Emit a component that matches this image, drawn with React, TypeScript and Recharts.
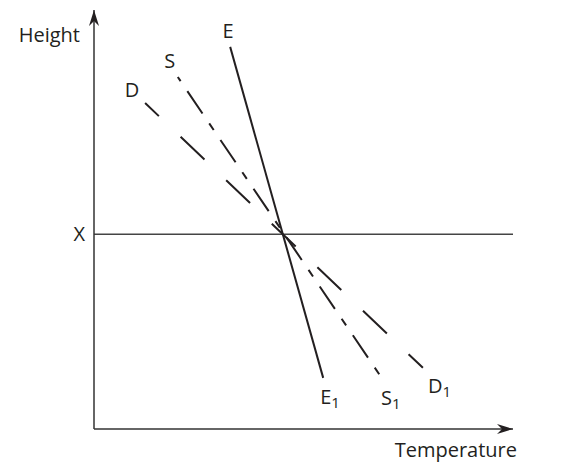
import { LineChart, Line, XAxis, YAxis, ReferenceLine, LabelList } from 'recharts';

// values on a 0..100 scale for both axes
const eLine = [
  { t: 32.5, h: 91.2 },
  { t: 54.7, h: 12.2 },
];
const sLine = [
  { t: 20.0, h: 84.0 },
  { t: 69.0, h: 11.7 },
];
const dLine = [
  { t: 12.2, h: 77.8 },
  { t: 78.5, h: 14.6 },
];
const levelX = 46.5;
const axisTitles = { x: 'Temperature', y: 'Height' };

const FONT = '"Open Sans", "DejaVu Sans", sans-serif';
const INK = '#231f20';

function endLabels(name: string, top: [number, number], bottom: [number, number]) {
  return (props: any) => {
    const { x, y, index } = props;
    if (index === 0) {
      return (
        <text x={x + top[0]} y={y + top[1]} textAnchor="middle" fontSize={20} fontFamily={FONT} fill={INK}>
          {name}
        </text>
      );
    }
    return (
      <text x={x + bottom[0]} y={y + bottom[1]} fontSize={20} fontFamily={FONT} fill={INK}>
        {name}
        <tspan dy={4} fontSize={15}>1</tspan>
      </text>
    );
  };
}

export default function App() {
  return (
    <div>
      <svg width={0} height={0} style={{ position: 'absolute' }}>
        <defs>
          <marker
            id="axis-arrow"
            viewBox="0 0 16 10"
            refX={16}
            refY={5}
            markerWidth={16}
            markerHeight={10}
            markerUnits="userSpaceOnUse"
            orient="auto-start-reverse"
          >
            <path d="M0,0 L16,5 L0,10 L5,5 Z" fill="#231f20" />
          </marker>
        </defs>
      </svg>
      <LineChart width={572} height={457} margin={{ top: 2, right: 67, bottom: 0, left: 0 }}>
        <XAxis
          dataKey="t"
          type="number"
          domain={[0, 100]}
          allowDataOverflow
          height={36}
          tick={false}
          tickLine={false}
          axisLine={{ stroke: '#333', strokeWidth: 1.5, markerEnd: 'url(#axis-arrow)' }}
          label={{
            content: (p: any) => {
              const vb = p.viewBox;
              return (
                <text x={vb.x + vb.width + 4} y={vb.y + 28} textAnchor="end" fontSize={20} fontFamily={FONT} fill={INK}>
                  {axisTitles.x}
                </text>
              );
            },
          }}
        />
        <YAxis
          dataKey="h"
          type="number"
          domain={[0, 100]}
          allowDataOverflow
          width={86}
          tick={false}
          tickLine={false}
          axisLine={{ stroke: '#333', strokeWidth: 1.5, markerStart: 'url(#axis-arrow)' }}
          label={{
            content: (p: any) => {
              const vb = p.viewBox;
              return (
                <text x={vb.x + vb.width - 14} y={vb.y + 32} textAnchor="end" fontSize={20} fontFamily={FONT} fill={INK}>
                  {axisTitles.y}
                </text>
              );
            },
          }}
        />
        <ReferenceLine
          y={levelX}
          stroke="#444"
          strokeWidth={1.5}
          label={{ value: 'X', position: 'left', offset: 9, fontSize: 20, fontFamily: FONT, fill: INK }}
        />
        <Line
          data={dLine}
          dataKey="h"
          stroke={INK}
          strokeWidth={2}
          strokeDasharray="33 30"
          strokeDashoffset={14}
          dot={false}
          activeDot={false}
          legendType="none"
          isAnimationActive={false}
        >
          <LabelList dataKey="h" content={endLabels('D', [-13, -6], [5, 25])} />
        </Line>
        <Line
          data={sLine}
          dataKey="h"
          stroke={INK}
          strokeWidth={2}
          strokeDasharray="27 12 8 12"
          strokeDashoffset={42}
          dot={false}
          activeDot={false}
          legendType="none"
          isAnimationActive={false}
        >
          <LabelList dataKey="h" content={endLabels('S', [-8, -9], [-2, 25])} />
        </Line>
        <Line
          data={eLine}
          dataKey="h"
          stroke={INK}
          strokeWidth={2}
          dot={false}
          activeDot={false}
          legendType="none"
          isAnimationActive={false}
        >
          <LabelList dataKey="h" content={endLabels('E', [-2, -9], [-3, 26])} />
        </Line>
      </LineChart>
    </div>
  );
}
